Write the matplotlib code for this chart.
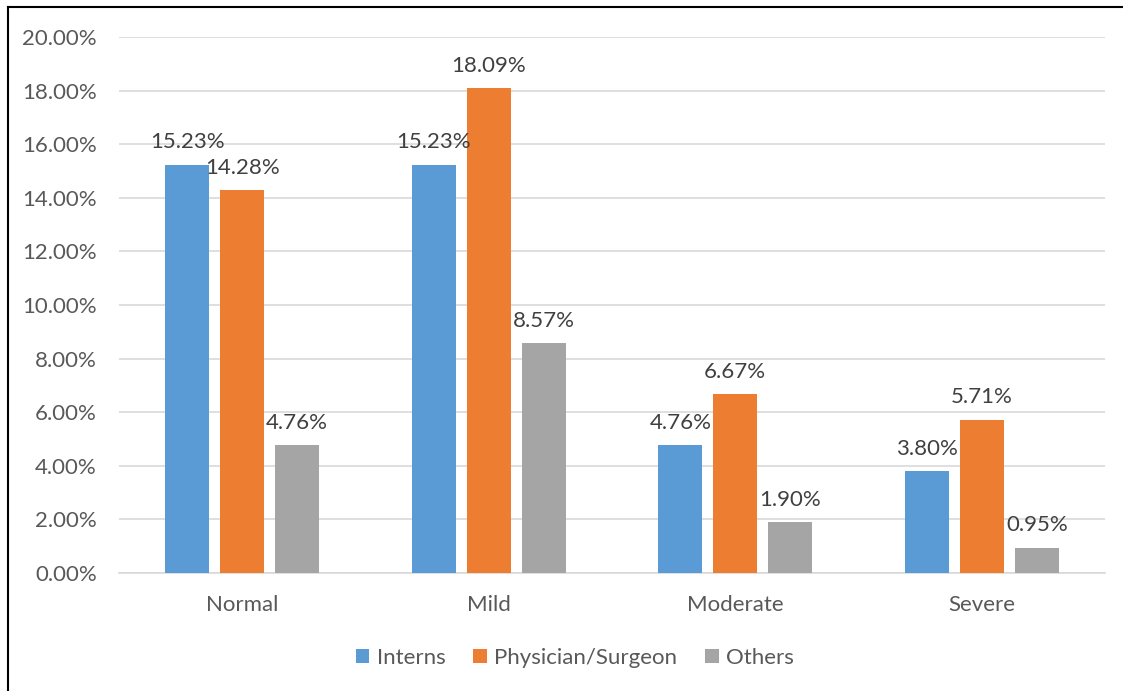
import numpy as np
import matplotlib.pyplot as plt
from matplotlib.lines import Line2D
from matplotlib.ticker import PercentFormatter

categories = ["Normal", "Mild", "Moderate", "Severe"]
series_names = ["Interns", "Physician/Surgeon", "Others"]
interns = [15.23, 15.23, 4.76, 3.80]
physician = [14.28, 18.09, 6.67, 5.71]
others = [4.76, 8.57, 1.90, 0.95]

colors = ["#5B9BD5", "#ED7D31", "#A5A5A5"]
text_color = "#595959"
plt.rcParams['font.family'] = ['Lato', 'DejaVu Sans']

fig = plt.figure(figsize=(11.23, 6.91), dpi=100)
ax = fig.add_axes([0.106, 0.1708, 0.878, 0.7757])

x = np.arange(len(categories))
width = 0.178
step = 0.223
for i, (name, vals) in enumerate(zip(series_names, [interns, physician, others])):
    bars = ax.bar(x + (i - 1) * step, vals, width, color=colors[i], label=name, zorder=3)
    for b, v in zip(bars, vals):
        ax.annotate(f"{v:.2f}%", (b.get_x() + b.get_width() / 2, v),
                    xytext=(0, 9), textcoords="offset points",
                    ha="center", va="bottom", fontsize=16, color="#404040", zorder=4)

ax.set_xlim(-0.5, len(categories) - 0.5)
ax.set_ylim(0, 20)
ax.set_yticks(np.arange(0, 21, 2))
ax.yaxis.set_major_formatter(PercentFormatter(decimals=2))
ax.set_xticks(x)
ax.set_xticklabels(categories)
ax.tick_params(axis="both", length=0, labelsize=16, colors=text_color)
ax.tick_params(axis="x", pad=16)
ax.tick_params(axis="y", pad=16)
ax.grid(axis="y", color="#D9D9D9", linewidth=1.2, zorder=0)
for side in ["top", "right", "left"]:
    ax.spines[side].set_visible(False)
ax.spines["bottom"].set_color("#D9D9D9")
ax.spines["bottom"].set_linewidth(1.2)

leg = fig.legend(loc="center", bbox_to_anchor=(0.512, 0.048), ncol=3, frameon=False,
                 fontsize=16, handlelength=0.6, handleheight=0.6,
                 handletextpad=0.35, columnspacing=1.25)
for t in leg.get_texts():
    t.set_color(text_color)

# frame lines along the left and top edges
fig.add_artist(Line2D([0.0075, 0.0075], [0, 0.99], transform=fig.transFigure, color="black", linewidth=1.5))
fig.add_artist(Line2D([0.0075, 1.0], [0.99, 0.99], transform=fig.transFigure, color="black", linewidth=1.5))

fig.savefig("out.png", dpi=100)
